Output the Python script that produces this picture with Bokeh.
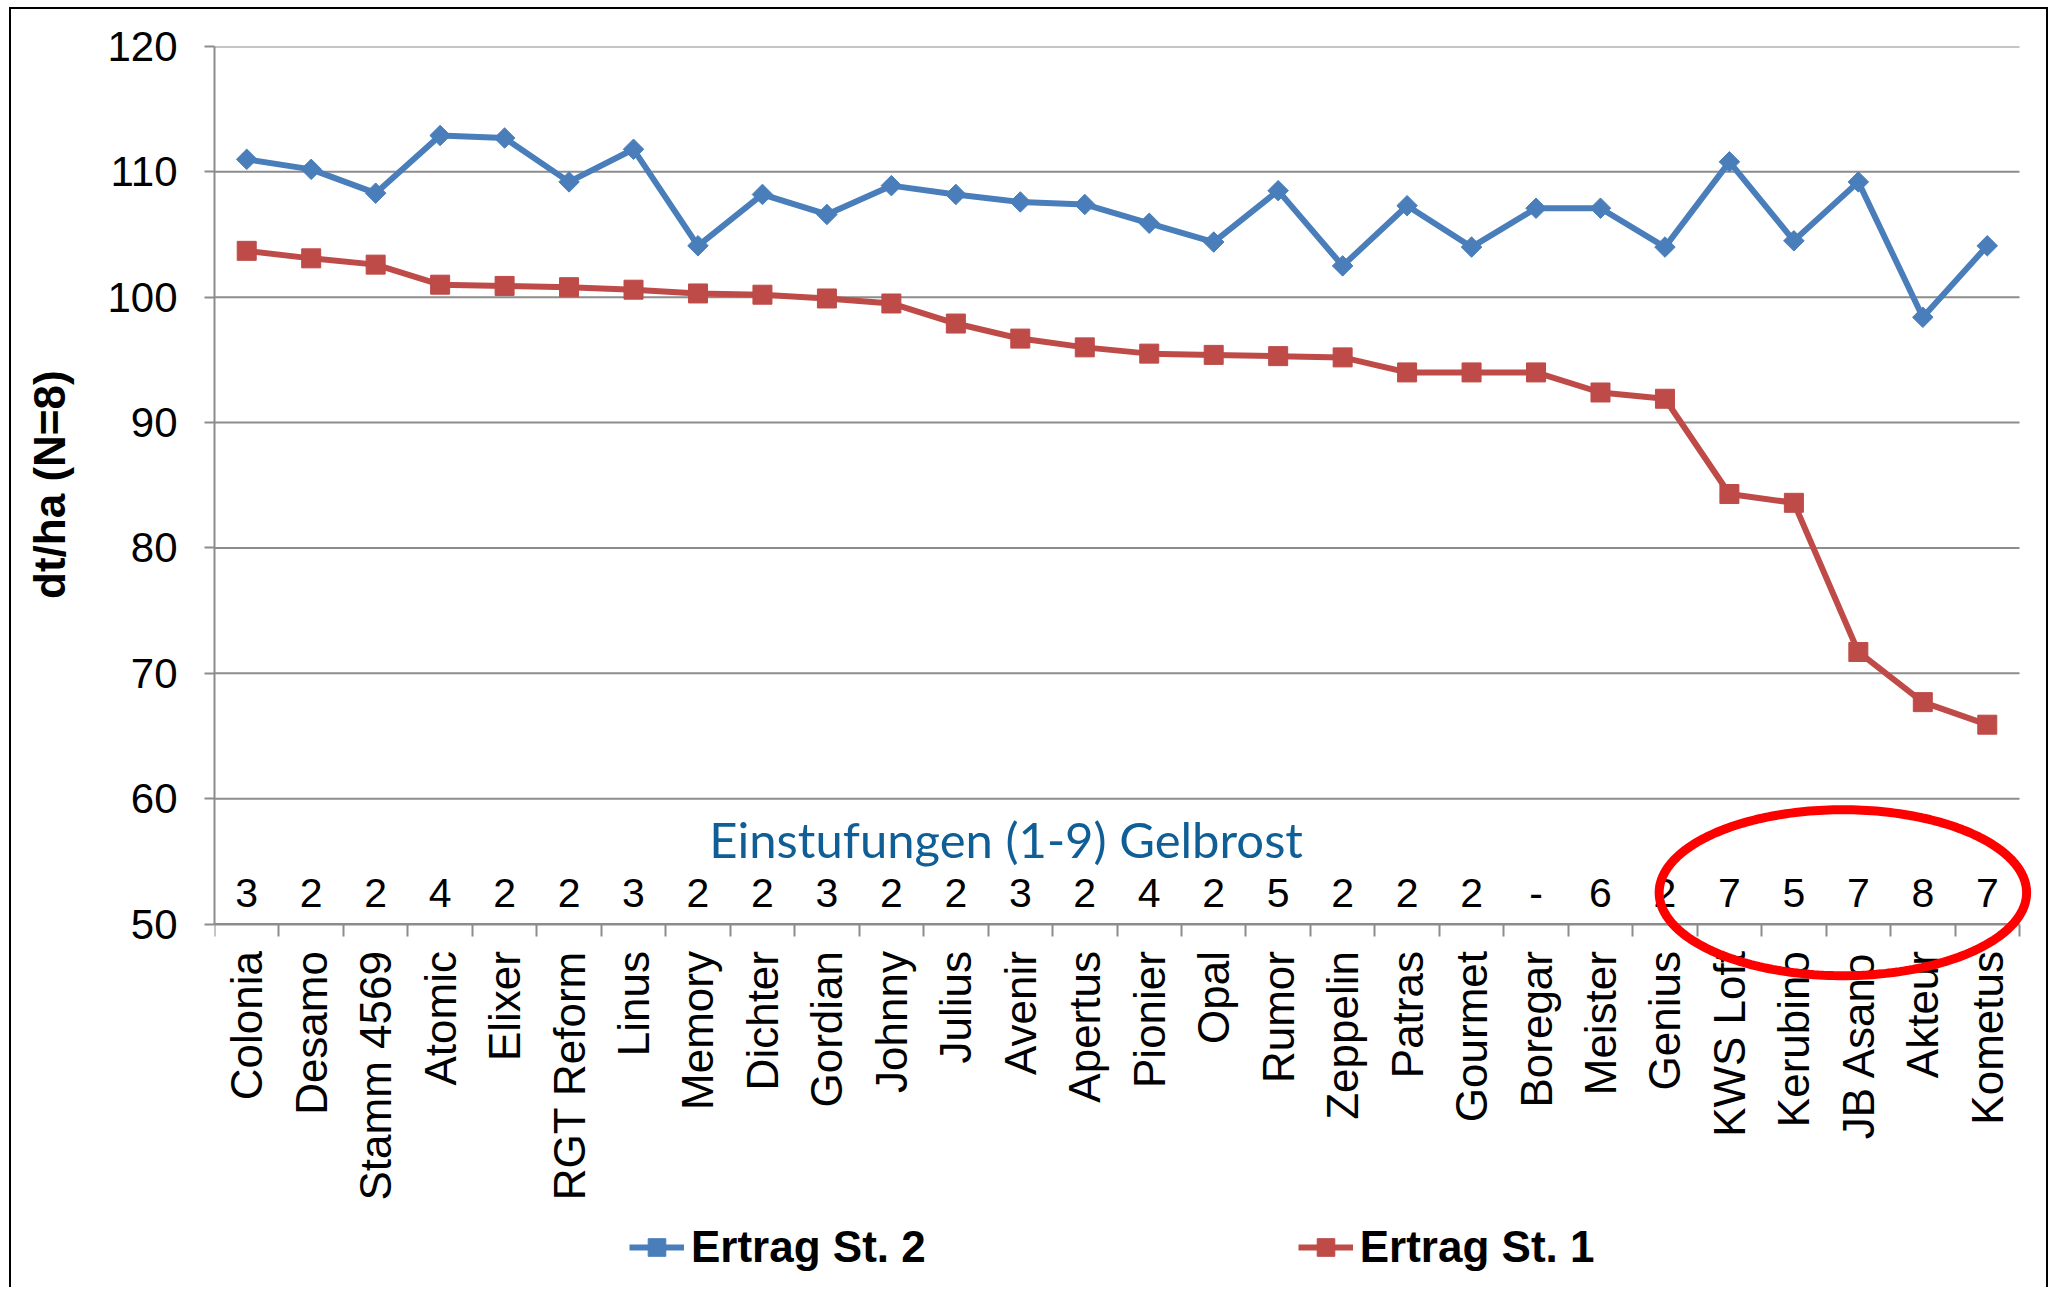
import numpy as np
from bokeh.plotting import figure
from bokeh.models import FixedTicker, Range1d, PolyAnnotation, Legend, LegendItem
from bokeh.embed import file_html
from bokeh.resources import INLINE
from bokeh.core.properties import value

# ---------------- data ----------------
sorten = ["Colonia", "Desamo", "Stamm 4569", "Atomic", "Elixer", "RGT Reform", "Linus",
          "Memory", "Dichter", "Gordian", "Johnny", "Julius", "Avenir", "Apertus",
          "Pionier", "Opal", "Rumor", "Zeppelin", "Patras", "Gourmet", "Boregar",
          "Meister", "Genius", "KWS Loft", "Kerubino", "JB Asano", "Akteur", "Kometus"]

ertrag_st2 = [111.0, 110.2, 108.3, 112.9, 112.7, 109.2, 111.8, 104.1, 108.2, 106.6,
              108.9, 108.2, 107.6, 107.4, 105.9, 104.4, 108.5, 102.5, 107.3, 104.0,
              107.1, 107.1, 104.0, 110.8, 104.5, 109.2, 98.4, 104.1]

ertrag_st1 = [103.7, 103.1, 102.6, 101.0, 100.9, 100.8, 100.6, 100.3, 100.2, 99.9,
              99.5, 97.9, 96.7, 96.0, 95.5, 95.4, 95.3, 95.2, 94.0, 94.0,
              94.0, 92.4, 91.9, 84.3, 83.6, 71.7, 67.7, 65.9]

gelbrost = ["3", "2", "2", "4", "2", "2", "3", "2", "2", "3", "2", "2", "3", "2",
            "4", "2", "5", "2", "2", "2", "-", "6", "2", "7", "5", "7", "8", "7"]

y_ticks = [50, 60, 70, 80, 90, 100, 110, 120]
rating_title = "Einstufungen (1-9) Gelbrost"
y_label = "dt/ha (N=8)"
series_labels = ["Ertrag St. 2", "Ertrag St. 1"]

# ---------------- layout ----------------
W, H = 2039, 1280
MB_LEFT, MB_TOP, MB_RIGHT = 203, 37, 15
EXTRA_RIGHT_PX = 16          # frame extends a bit right of the last category
CAT_PX = 64.5
PX_PER_UNIT = 12.536
frame_h = H - MB_TOP
y_top = 120
y_bottom = y_top - frame_h / PX_PER_UNIT   # frame reaches below the x axis at 50

n = len(sorten)
xs = list(range(n))
x_lo, x_hi = -0.5, n - 0.5

p = figure(width=W, height=H,
           x_range=Range1d(x_lo, x_hi + EXTRA_RIGHT_PX / CAT_PX),
           y_range=Range1d(y_bottom, y_top),
           output_backend="svg", toolbar_location=None,
           min_border_left=MB_LEFT, min_border_right=MB_RIGHT,
           min_border_top=MB_TOP, min_border_bottom=0)
p.styles = {"margin": "7px 0 0 9px",
            "border-top": "2px solid #000", "border-left": "2px solid #000",
            "border-right": "2px solid #000"}
p.outline_line_color = None
p.background_fill_color = "white"
p.border_fill_color = "white"

# grid: horizontal lines limited to the category span
p.xgrid.grid_line_color = None
p.ygrid.grid_line_color = None
p.segment(x0=[x_lo] * len(y_ticks), x1=[x_hi] * len(y_ticks), y0=y_ticks, y1=y_ticks,
          line_color="#8C8C8C", line_width=2)

# y axis
p.yaxis.ticker = FixedTicker(ticks=y_ticks)
p.yaxis.bounds = (50, 120)
p.yaxis.axis_line_color = "#8C8C8C"
p.yaxis.axis_line_width = 2
p.yaxis.major_tick_line_color = "#8C8C8C"
p.yaxis.major_tick_line_width = 2
p.yaxis.major_tick_out = 10
p.yaxis.major_tick_in = 0
p.yaxis.minor_tick_line_color = None
p.yaxis.major_label_text_font = "Liberation Sans"
p.yaxis.major_label_text_font_size = "42px"
p.yaxis.major_label_text_color = "black"
p.yaxis.major_label_standoff = 27
# label is centred on the frame; leading no-break spaces lift it to the 50..120 span
p.yaxis.axis_label = "\u00a0" * 30 + y_label
p.yaxis.axis_label_text_font = "Liberation Sans"
p.yaxis.axis_label_text_font_style = "bold"
p.yaxis.axis_label_text_font_size = "44px"
p.yaxis.axis_label_text_color = "black"
p.yaxis.axis_label_standoff = 30

# x axis at y=50 (category names at integer positions, tick marks at boundaries)
p.xaxis.fixed_location = 50
p.xaxis.bounds = (x_lo, x_hi)
p.xaxis.ticker = FixedTicker(ticks=xs, minor_ticks=[i - 0.5 for i in range(n + 1)])
p.xaxis.major_label_overrides = {i: s for i, s in enumerate(sorten)}
p.xaxis.major_label_orientation = np.pi / 2
p.xaxis.major_label_text_font = "Liberation Sans"
p.xaxis.major_label_text_font_size = "44px"
p.xaxis.major_label_text_color = "black"
p.xaxis.major_label_standoff = 15
p.xaxis.axis_line_color = "#8C8C8C"
p.xaxis.axis_line_width = 2
p.xaxis.major_tick_line_color = None
p.xaxis.major_tick_out = 0
p.xaxis.major_tick_in = 0
p.xaxis.minor_tick_line_color = "#8C8C8C"
p.xaxis.minor_tick_line_width = 2
p.xaxis.minor_tick_out = 12
p.xaxis.minor_tick_in = 0

# series
blue = "#4A7EBB"
red = "#BE4B48"
l2 = p.line(xs, ertrag_st2, line_color=blue, line_width=6)
s2 = p.scatter(xs, ertrag_st2, marker="square", angle=np.pi / 4, size=14.5,
               fill_color=blue, line_color=blue)
l1 = p.line(xs, ertrag_st1, line_color=red, line_width=6)
s1 = p.scatter(xs, ertrag_st1, marker="square", size=19,
               fill_color=red, line_color=red)

# ratings row
p.text(x=xs, y=[52.5] * n, text=gelbrost, text_align="center",
       text_baseline="alphabetic", text_font=value("Liberation Sans"),
       text_font_size="41px", text_color="black")
p.text(x=[11.78], y=[56.8], text=[rating_title], text_align="center",
       text_baseline="alphabetic", text_font=value("Lato"),
       text_font_size="49px", text_color="#0F5E96")

# red highlight ellipse (annotation)
t = np.linspace(0, 2 * np.pi, 241)
cx, cy, ax_, ay_ = 24.76, 52.5, 2.85, 6.62
p.add_layout(PolyAnnotation(xs=list(cx + ax_ * np.cos(t)), ys=list(cy + ay_ * np.sin(t)),
                            fill_color=None, fill_alpha=0, line_color="#FF0000",
                            line_alpha=1.0, line_width=9))

# legend
legend = Legend(items=[LegendItem(label=series_labels[0], renderers=[l2, s2]),
                       LegendItem(label=series_labels[1], renderers=[l1, s1])],
                orientation="horizontal", location=(415, 17),
                glyph_width=55, glyph_height=44, label_standoff=7, spacing=372,
                padding=0, margin=0,
                label_text_font="Liberation Sans", label_text_font_style="bold",
                label_text_font_size="44px", label_text_color="black",
                background_fill_alpha=0, border_line_color=None)
p.add_layout(legend)

open("out.html", "w").write(file_html(p, INLINE))
